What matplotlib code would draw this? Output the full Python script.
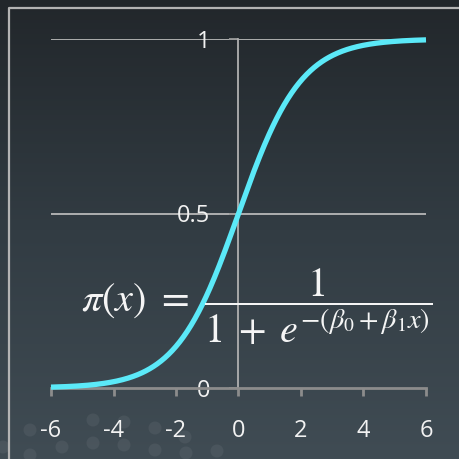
import numpy as np
import matplotlib
matplotlib.use("Agg")
import matplotlib.pyplot as plt
from matplotlib.colors import LinearSegmentedColormap
from matplotlib.patches import Circle

# logistic model shown in the formula
beta0 = 0.0
beta1 = 1.0
x_range = (-6, 6)
x_ticks = [-6, -4, -2, 0, 2, 4, 6]
y_ticks = [0, 0.5, 1]
y_ticklabels = ["0", "0.5", "1"]

plt.rcParams["mathtext.fontset"] = "stix"
plt.rcParams["font.family"] = ["Open Sans", "DejaVu Sans"]

W, H = 460, 459
fig = plt.figure(figsize=(W / 100, H / 100), dpi=100)

# slide-like background: vertical gradient, thin frame, faint dots
bg = fig.add_axes([0, 0, 1, 1])
grad_cmap = LinearSegmentedColormap.from_list("bg", ["#22272b", "#323c43", "#404c54"])
bg.imshow(np.linspace(0, 1, 256).reshape(-1, 1), aspect="auto", cmap=grad_cmap,
          extent=[0, W, H, 0])
bg.plot([W + 5, 9, 9], [7.5, 7.5, H + 5], color="#b4b4b4", lw=1.6)
dots = [(30, 430), (93, 420), (124, 422), (155, 428), (185, 437), (62, 447),
        (93, 443), (124, 445), (155, 450), (186, 453), (217, 451), (30, 455), (3, 447)]
for cx, cy in dots:
    bg.add_patch(Circle((cx, cy), 6.5, color="#ffffff", alpha=0.06, lw=0))
bg.set_xlim(0, W)
bg.set_ylim(H, 0)
bg.axis("off")

ax = fig.add_axes([51 / W, 71 / H, 375 / W, 349 / H])
ax.patch.set_alpha(0)

xs = np.linspace(x_range[0], x_range[1], 400)
pi_x = 1 / (1 + np.exp(-(beta0 + beta1 * xs)))

for yv in y_ticks[1:]:
    ax.plot(x_range, [yv, yv], color="#b8b8b8", lw=1.3, zorder=1)
ax.plot(xs, pi_x, color="#5be9f8", lw=3.8, solid_capstyle="butt", zorder=3, clip_on=False)

ax.set_xlim(*x_range)
ax.set_ylim(0, 1)
ax.spines["top"].set_visible(False)
ax.spines["right"].set_visible(False)
ax.spines["left"].set_position(("data", 0))
ax.spines["left"].set_color("#b0b0b0")
ax.spines["left"].set_linewidth(1.3)
ax.spines["bottom"].set_color("#8c8c8c")
ax.spines["bottom"].set_linewidth(2)

ax.set_xticks(x_ticks)
ax.set_xticklabels([str(t) for t in x_ticks])
ax.set_yticks(y_ticks)
ax.set_yticklabels(y_ticklabels)
ax.tick_params(axis="x", direction="out", length=6, width=2, color="#8c8c8c",
               labelcolor="#f2f2f2", labelsize=17, pad=16)
ax.tick_params(axis="y", direction="out", length=6.5, width=1.3, color="#9a9a9a",
               labelcolor="#f2f2f2", labelsize=17, pad=14)

ax.text(-5.05, 0.234, r"$\pi(x)\ =\ \dfrac{1}{1\;+\;e^{-(\beta_0+\beta_1 x)}}$",
        color="#f5f5f5", fontsize=29, ha="left", va="center", zorder=4)

fig.savefig("out.png", dpi=100)
